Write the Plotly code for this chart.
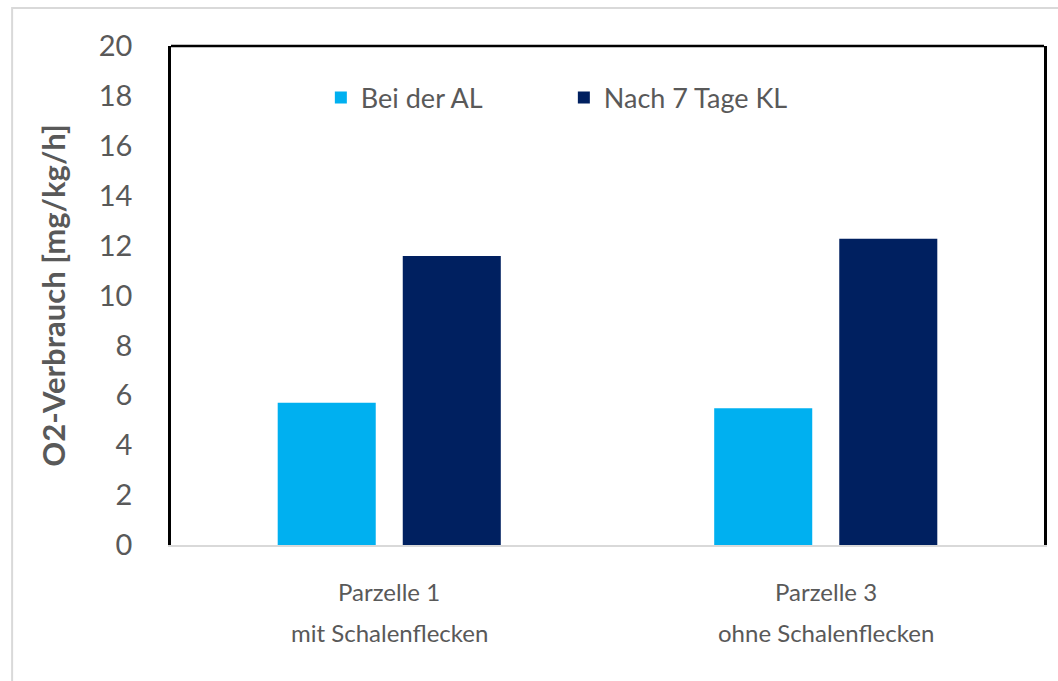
import plotly.graph_objects as go

# categories and values
categories = ["Parzelle 1", "Parzelle 3"]
label_line1 = ["Parzelle 1", "Parzelle 3"]
label_line2 = ["mit Schalenflecken", "ohne Schalenflecken"]
bei_der_al = [5.7, 5.48]
nach_7_tage_kl = [11.58, 12.27]
y_ticks = [0, 2, 4, 6, 8, 10, 12, 14, 16, 18, 20]

FONT = "Lato"
GREY = "#595959"

fig = go.Figure()
fig.add_trace(go.Bar(x=categories, y=bei_der_al, name="Bei der AL",
                     marker=dict(color="#00B0F0", line=dict(width=0))))
fig.add_trace(go.Bar(x=categories, y=nach_7_tage_kl, name="Nach 7 Tage KL",
                     marker=dict(color="#002060", line=dict(width=0))))

# two-line category labels below the axis
for cat, l1, l2 in zip(categories, label_line1, label_line2):
    fig.add_annotation(x=cat, y=-0.094, xref="x", yref="paper", text=l1,
                       showarrow=False, yanchor="middle",
                       font=dict(family=FONT, size=24, color=GREY))
    fig.add_annotation(x=cat, y=-0.176, xref="x", yref="paper", text=l2,
                       showarrow=False, yanchor="middle",
                       font=dict(family=FONT, size=24, color=GREY))

# outer light border and black frame
fig.add_shape(type="rect", xref="paper", yref="paper",
              x0=-0.182, x1=1.2, y0=-0.5, y1=1.076,
              line=dict(color="#D9D9D9", width=2), layer="below")
fig.add_shape(type="line", xref="paper", yref="paper",
              x0=0, x1=1, y0=1, y1=1, line=dict(color="black", width=2.5))

fig.update_layout(
    width=1058, height=681,
    margin=dict(l=171, r=14, t=46, b=136),
    paper_bgcolor="white", plot_bgcolor="white",
    barmode="group", bargap=0.427, bargroupgap=0.216,
    font=dict(family=FONT, color=GREY),
    showlegend=True,
    legend=dict(orientation="h", x=0.45, y=0.896, xanchor="center", yanchor="middle",
                font=dict(family=FONT, size=27, color=GREY),
                entrywidth=198, entrywidthmode="pixels",
                bgcolor="rgba(0,0,0,0)"),
    xaxis=dict(showticklabels=False, showline=True, linecolor="#D9D9D9",
               linewidth=2, ticks="", showgrid=False, zeroline=False),
    yaxis=dict(range=[0, 20], tickvals=y_ticks, showgrid=False, zeroline=False,
               showline=True, linecolor="black", linewidth=2.5, mirror=True,
               ticks="outside", ticklen=30, tickcolor="rgba(0,0,0,0)",
               tickfont=dict(family=FONT, size=29, color=GREY),
               title=dict(text="<b>O2-Verbrauch [mg/kg/h]</b>", standoff=24,
                          font=dict(family=FONT, size=31, color=GREY))),
)

fig.write_html("out.html", config={"displayModeBar": False},
               post_script="document.body.style.margin='0';")
